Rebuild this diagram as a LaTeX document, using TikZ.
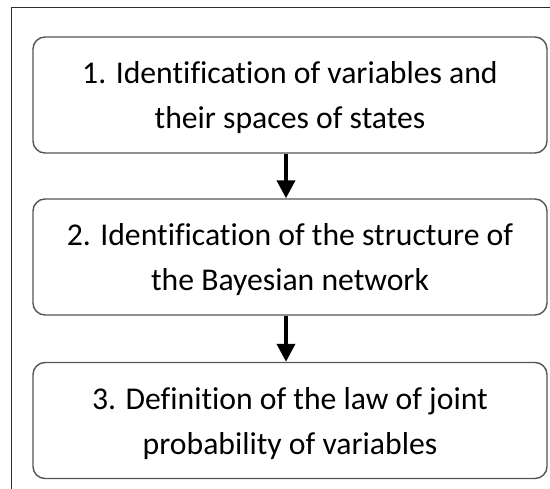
\documentclass[tikz,border=0pt]{standalone}
\usepackage{fontspec}
\setmainfont{Carlito}[Ligatures=NoCommon]
\usetikzlibrary{arrows.meta,positioning}
\definecolor{boxline}{RGB}{85,85,85}
\definecolor{frameline}{RGB}{45,45,45}

\begin{document}
\begin{tikzpicture}[x=1pt,y=-1pt,
    stage/.style={draw=boxline, line width=1.4pt, rounded corners=12pt,
      minimum width=514pt, minimum height=116pt, inner sep=0pt,
      align=center, font=\fontsize{31.7}{45}\selectfont,
      text height=70pt, text depth=2pt},
    flow/.style={line width=3.8pt, -{Triangle[width=18pt,length=18pt]}}]
        \useasboundingbox (0,0) rectangle (550,489);
        % Outer frame
        \draw[frameline, line width=1.4pt] (11.5,489) -- (11.5,7.5) -- (550,7.5);
        % Steps
        \node[stage] (ident) at (290,95) {1. Identification of variables and\\their spaces of states};
        \node[stage] (struct) at (290,257) {2. Identification of the structure of\\the Bayesian network};
        \node[stage] (law) at (290,420.5) {3. Definition of the law of joint\\probability of variables};
        % Arrows
        \draw[flow] ([xshift=-4pt]ident.south) -- ([xshift=-4pt]struct.north);
        \draw[flow] ([xshift=-4pt]struct.south) -- ([xshift=-4pt]law.north);
    \end{tikzpicture}
\end{document}
